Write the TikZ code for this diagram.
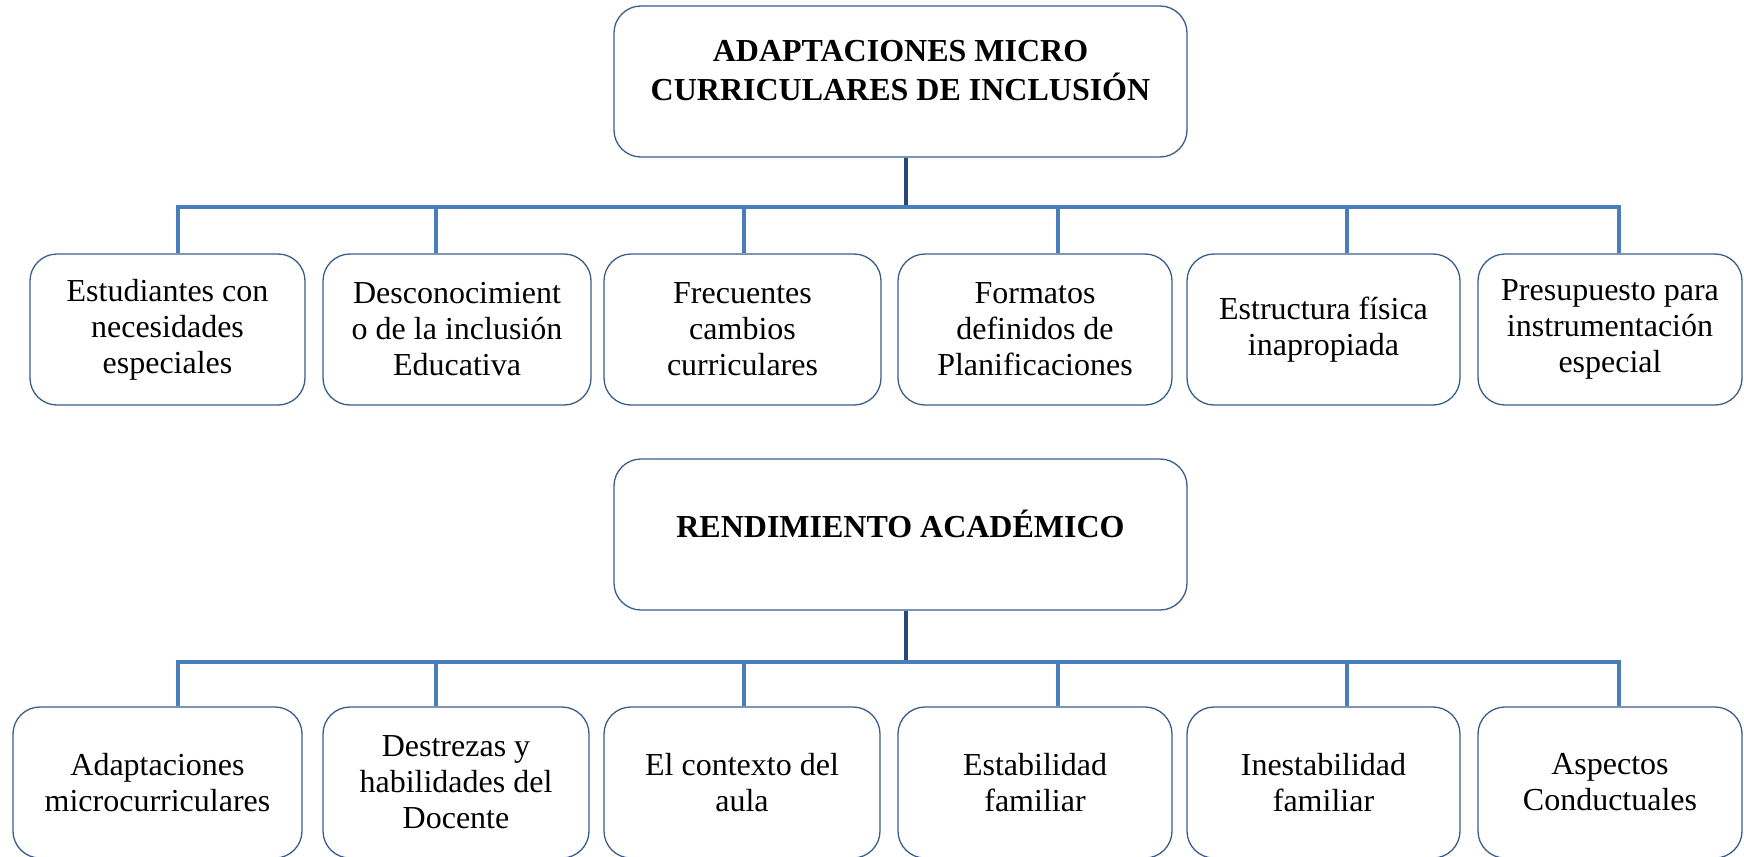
\documentclass[tikz,border=0pt]{standalone}
\usepackage{fontspec}
\setmainfont{Liberation Serif}
\definecolor{boxline}{RGB}{56,93,138}
\definecolor{barblue}{RGB}{74,126,187}
\definecolor{stemblue}{RGB}{38,72,120}
\begin{document}
\begin{tikzpicture}[x=1pt,y=-1pt,
  box/.style={draw=boxline, line width=1.3pt, rounded corners=27pt, fill=white,
    align=center, inner sep=0pt, minimum height=151pt,
    font=\fontsize{32}{36}\selectfont},
  titlebox/.style={box, minimum width=573pt},
  titletext/.style={align=center, yshift=11pt, font=\fontsize{32}{39.5}\selectfont\bfseries},
  bar/.style={draw=barblue, line width=4pt, line join=miter},
  stem/.style={draw=stemblue, line width=3.5pt}]
\useasboundingbox (0,0) rectangle (1744,856);
\clip (0,0) rectangle (1744,856);
% x positions of the drops
\coordinate (x1) at (178,0);
\coordinate (x2) at (436,0);
\coordinate (x3) at (744,0);
\coordinate (x4) at (1058,0);
\coordinate (x5) at (1347,0);
\coordinate (x6) at (1619,0);
\coordinate (xs) at (906,0);
\coordinate (j1) at (906,207);
\coordinate (j2) at (906,662);

% ---------- first tree ----------
\node[titlebox, label={[titletext]center:ADAPTACIONES MICRO\\CURRICULARES DE INCLUSIÓN}] (t1) at (900.5,81.5) {};
\node[box, minimum width=275pt] (a1) at (167.5,329.5) {Estudiantes con\\necesidades\\especiales};
\node[box, minimum width=268pt] (a2) at (457,329.5) {Desconocimient\\o de la inclusión\\Educativa};
\node[box, minimum width=277pt] (a3) at (742.5,329.5) {Frecuentes\\cambios\\curriculares};
\node[box, minimum width=274pt] (a4) at (1035,329.5) {Formatos\\definidos de\\Planificaciones};
\node[box, minimum width=273pt] (a5) at (1323.5,329.5) {Estructura física\\inapropiada};
\node[box, minimum width=264pt] (a6) at (1610,329.5) {Presupuesto para\\instrumentación\\especial};

\draw[stem] (xs |- t1.south) -- (j1);
\draw[bar] (x1 |- a1.north) -- (x1 |- j1) -- (x6 |- j1) -- (x6 |- a6.north);
\draw[bar] (x2 |- j1) -- (x2 |- a2.north);
\draw[bar] (x3 |- j1) -- (x3 |- a3.north);
\draw[bar] (x4 |- j1) -- (x4 |- a4.north);
\draw[bar] (x5 |- j1) -- (x5 |- a5.north);

% ---------- second tree ----------
\node[titlebox, label={[titletext]center:RENDIMIENTO ACADÉMICO}] (t2) at (900.5,534.5) {};
\node[box, minimum width=289pt] (b1) at (157.5,782.5) {Adaptaciones\\microcurriculares};
\node[box, minimum width=266pt] (b2) at (456,782.5) {Destrezas y\\habilidades del\\Docente};
\node[box, minimum width=276pt] (b3) at (742,782.5) {El contexto del\\aula};
\node[box, minimum width=274pt] (b4) at (1035,782.5) {Estabilidad\\familiar};
\node[box, minimum width=273pt] (b5) at (1323.5,782.5) {Inestabilidad\\familiar};
\node[box, minimum width=264pt] (b6) at (1610,782.5) {Aspectos\\Conductuales};

\draw[stem] (xs |- t2.south) -- (j2);
\draw[bar] (x1 |- b1.north) -- (x1 |- j2) -- (x6 |- j2) -- (x6 |- b6.north);
\draw[bar] (x2 |- j2) -- (x2 |- b2.north);
\draw[bar] (x3 |- j2) -- (x3 |- b3.north);
\draw[bar] (x4 |- j2) -- (x4 |- b4.north);
\draw[bar] (x5 |- j2) -- (x5 |- b5.north);
\end{tikzpicture}
\end{document}
